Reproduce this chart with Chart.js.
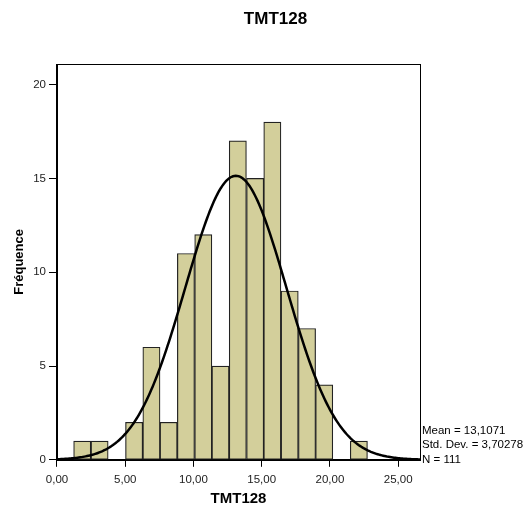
<!DOCTYPE html>
<html>
<head>
<meta charset="utf-8">
<script src="https://cdn.jsdelivr.net/npm/chart.js@4"></script>
<style>
  html, body { margin: 0; padding: 0; background: #fff; }
</style>
</head>
<body>
<canvas id="hist" width="529" height="507"></canvas>
<script>
// Histogram data
const binCenters = [1.85, 3.12, 4.38, 5.65, 6.92, 8.18, 9.45, 10.72, 11.98, 13.25, 14.52, 15.78, 17.05, 18.32, 19.58, 20.85, 22.12];
const counts = [1, 1, 0, 2, 6, 2, 11, 12, 5, 17, 15, 18, 9, 7, 4, 0, 1];
const binWidth = 1.266;

// Summary stats shown on the chart
const mean = 13.1071;
const stdDev = 3.70278;
const n = 111;
const statLines = ["Mean = 13,1071", "Std. Dev. = 3,70278", "N = 111"];

const chartTitle = "TMT128";
const xTitle = "TMT128";
const yTitle = "Fréquence";

const FONT = "'Liberation Sans', Arial, sans-serif";

// Normal curve fitted with mean / sd, scaled to counts
const curve = [];
for (let x = 0; x <= 26.6001; x += 0.1) {
  const z = (x - mean) / stdDev;
  const y = n * binWidth * Math.exp(-0.5 * z * z) / (stdDev * Math.sqrt(2 * Math.PI));
  curve.push({ x: x, y: y });
}

// Frame around plot + title + stats text
const extras = {
  id: "extras",
  afterDraw(chart) {
    const { ctx, chartArea } = chart;
    ctx.save();
    ctx.strokeStyle = "#000";
    ctx.lineWidth = 1;
    ctx.strokeRect(Math.round(chartArea.left) + 0.5, Math.round(chartArea.top) + 0.5,
      Math.round(chartArea.right - chartArea.left), Math.round(chartArea.bottom - chartArea.top));

    ctx.fillStyle = "#000";
    ctx.font = "bold 17px " + FONT;
    ctx.textAlign = "center";
    ctx.textBaseline = "middle";
    ctx.fillText(chartTitle, 275.5, 19);

    ctx.font = "11.5px " + FONT;
    ctx.textAlign = "left";
    statLines.forEach((t, i) => {
      ctx.fillText(t, chartArea.right + 2, chartArea.bottom - 29 + i * 14.5);
    });
    ctx.restore();
  },
};

const commaFmt = (v) => v.toFixed(2).replace(".", ",");

new Chart(document.getElementById("hist"), {
  data: {
    datasets: [
      {
        type: "line",
        data: curve,
        borderColor: "#000",
        borderWidth: 2.5,
        pointRadius: 0,
        tension: 0,
        order: 0,
      },
      {
        type: "bar",
        data: binCenters.map((c, i) => ({ x: c, y: counts[i] })),
        backgroundColor: "#d3cf9b",
        borderColor: "#222",
        borderWidth: 1.2,
        borderSkipped: false,
        barPercentage: 1,
        categoryPercentage: 1,
        order: 1,
      },
    ],
  },
  options: {
    responsive: false,
    animation: false,
    devicePixelRatio: 1,
    layout: { padding: { top: 64, right: 109, bottom: 0, left: 6 } },
    plugins: {
      legend: { display: false },
      tooltip: { enabled: false },
    },
    scales: {
      x: {
        type: "linear",
        min: 0,
        max: 26.6,
        offset: false,
        grid: { drawOnChartArea: false, tickLength: 7, color: "#000", offset: false },
        border: { color: "#000" },
        ticks: {
          stepSize: 5,
          includeBounds: false,
          padding: 7,
          color: "#222",
          font: { family: FONT, size: 11.5, lineHeight: 1 },
          callback: (v) => commaFmt(v),
        },
        title: {
          display: true,
          text: xTitle,
          color: "#000",
          font: { family: FONT, size: 15, weight: "bold", lineHeight: 0.9 },
          padding: { top: 0, bottom: 1.2 },
        },
      },
      y: {
        min: 0,
        max: 21.1,
        grid: { drawOnChartArea: false, tickLength: 8, color: "#000" },
        border: { color: "#000" },
        ticks: {
          stepSize: 5,
          includeBounds: false,
          padding: 3,
          color: "#222",
          font: { family: FONT, size: 11.5 },
        },
        title: {
          display: true,
          text: yTitle,
          color: "#000",
          font: { family: FONT, size: 13, weight: "bold", lineHeight: 1 },
          padding: { top: 6.5, bottom: 4.7 },
        },
      },
    },
  },
  plugins: [extras],
});
</script>
</body>
</html>
